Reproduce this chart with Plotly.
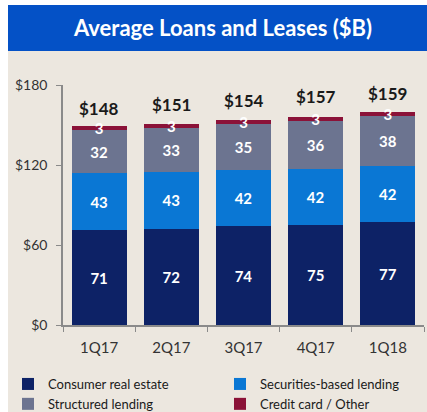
import plotly.graph_objects as go

quarters = ["1Q17", "2Q17", "3Q17", "4Q17", "1Q18"]
consumer_real_estate = [71, 72, 74, 75, 77]
securities_based = [43, 43, 42, 42, 42]
structured_lending = [32, 33, 35, 36, 38]
credit_card_other = [3, 3, 3, 3, 3]
totals = [148, 151, 154, 157, 159]
total_labels = ["$148", "$151", "$154", "$157", "$159"]
y_ticks = [0, 60, 120, 180]
y_tick_labels = ["$0", "$60", "$120", "$180"]

series = [
    ("Consumer real estate", consumer_real_estate, "#0d2266"),
    ("Securities-based lending", securities_based, "#0a77d4"),
    ("Structured lending", structured_lending, "#6c7490"),
    ("Credit card / Other", credit_card_other, "#8b1238"),
]

W, H = 427, 412
ML, MR, MT, MB = 63, 3, 85, 87
PW, PH = W - ML - MR, H - MT - MB


def px(x):
    return (x - ML) / PW


def py(y):
    return (H - MB - y) / PH


FONT = "Lato"

fig = go.Figure()
for name, vals, color in series:
    fig.add_trace(go.Bar(
        x=quarters, y=vals, name=name,
        marker=dict(color=color, line=dict(width=0)),
        text=[str(v) for v in vals],
        textposition="inside", insidetextanchor="middle", textangle=0,
        textfont=dict(family=FONT, size=15, color="white", weight="bold"),
    ))

for q, t, lab in zip(quarters, totals, total_labels):
    fig.add_annotation(x=q, y=t, text=lab, showarrow=False,
                       yanchor="bottom", yshift=7,
                       font=dict(family=FONT, size=17, color="#1a1a1a", weight="bold"))

# background panel and title banner
fig.add_shape(type="rect", xref="paper", yref="paper", layer="below",
              x0=px(8), x1=px(430), y0=py(415), y1=py(51),
              fillcolor="#ece7df", line=dict(width=0))
fig.add_shape(type="rect", xref="paper", yref="paper", layer="below",
              x0=px(8), x1=px(430), y0=py(51), y1=py(5),
              fillcolor="#0451c6", line=dict(width=0))
fig.add_annotation(xref="paper", yref="paper", x=px(222), y=py(28),
                   text="Average Loans and Leases ($B)", showarrow=False,
                   xanchor="center", yanchor="middle",
                   font=dict(family=FONT, size=22, color="white", weight="bold"))

fig.update_layout(
    width=W, height=H,
    margin=dict(l=ML, r=MR, t=MT, b=MB, pad=0, autoexpand=False),
    barmode="stack", bargap=0.236,
    paper_bgcolor="white", plot_bgcolor="rgba(0,0,0,0)",
    uniformtext=dict(minsize=15, mode="show"),
    showlegend=True,
    legend=dict(orientation="h", x=px(8), y=py(369), xanchor="left", yanchor="top",
                entrywidth=167, entrywidthmode="pixels", itemwidth=30,
                traceorder="normal", tracegroupgap=0,
                font=dict(family=FONT, size=13, color="#1a1a1a"),
                bgcolor="rgba(0,0,0,0)"),
    font=dict(family=FONT),
)
fig.update_yaxes(range=[0, 180], tickvals=y_ticks, ticktext=y_tick_labels,
                 showgrid=False, zeroline=False,
                 showline=True, linecolor="#8a8a8a", linewidth=1.5,
                 ticks="outside", ticklen=5, tickcolor="#8a8a8a",
                 ticklabelstandoff=6,
                 tickfont=dict(family=FONT, size=14, color="#333333"))
fig.update_xaxes(showgrid=False, showline=True, linecolor="#8a8a8a", linewidth=1.5,
                 ticks="outside", ticklen=5, tickcolor="#8a8a8a", tickson="boundaries",
                 ticklabelstandoff=8,
                 tickfont=dict(family=FONT, size=15, color="#333333"))

fig.write_html("out.html")
